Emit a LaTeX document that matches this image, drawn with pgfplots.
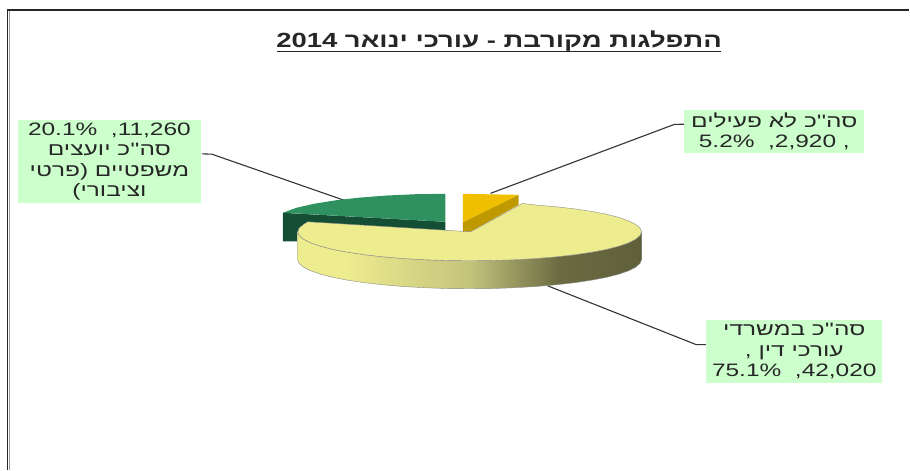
\documentclass[border=0pt]{standalone}
\usepackage{fontspec}
\usepackage{pgfplots}
\pgfplotsset{compat=1.18}
\TeXXeTstate=1
\newfontfamily\hebfont[Script=Hebrew,FakeStretch=1.36]{Liberation Sans}
\newfontfamily\latfont[FakeStretch=1.36]{Liberation Sans}
\newfontfamily\hebbold[Script=Hebrew,FakeStretch=1.34,BoldFont={Liberation Sans Bold}]{Liberation Sans}
\definecolor{labelbg}{HTML}{CCFFCC}
\definecolor{pale}{HTML}{EDEC8E}
\definecolor{paleB}{HTML}{C4C37C}
\definecolor{paleC}{HTML}{6B6B42}
\definecolor{paleD}{HTML}{5F5F3A}
\definecolor{greentop}{HTML}{2F915F}
\definecolor{greenside}{HTML}{134E35}
\definecolor{goldtop}{HTML}{F0C000}
\definecolor{goldside}{HTML}{BF9900}
\pgfdeclarehorizontalshading{paleside}{100bp}{
  color(0bp)=(pale); color(32bp)=(pale); color(50bp)=(paleB);
  color(63bp)=(paleC); color(75bp)=(paleD); color(100bp)=(paleD)}
\begin{document}
\begin{tikzpicture}
\begin{axis}[
  scale only axis, width=910pt, height=470pt,
  xmin=0, xmax=910, ymin=0, ymax=470, y dir=reverse,
  hide axis, clip=false,
]
% page extent
\addplot[draw=none] coordinates {(0,0) (910,470)};
% frame
\addplot[black!85, line width=1.6pt] coordinates {(7.5,470) (7.5,10) (910,10)};
\addplot[black!40, line width=1.4pt] coordinates {(9.6,470) (9.6,11.5)};

% leader lines
\addplot[black!80, line width=1.1pt] coordinates {(685,124.3) (675,124.5) (491,193.5)};
\addplot[black!80, line width=1.1pt] coordinates {(202,154) (212,154.3) (346,201)};
\addplot[black!80, line width=1.1pt] coordinates {(707,345) (697,345) (548,286)};

% green slice 20.1
\addplot[fill=greenside, draw=none] coordinates {
  (283,213) (445.7,222) (445.7,231) (300,231) (300,241.5) (283,241.5)} -- cycle;
\addplot[fill=greentop, draw=none] coordinates {
  (445.7,194) (415.8,194.4) (386.9,195.7) (359.7,197.8) (335.1,200.6)
  (313.9,204) (296.7,208) (283.1,212.9) (445.7,222)} -- cycle;

% gold slice 5.2
\addplot[fill=goldside, draw=none] coordinates {
  (463.3,222.3) (519,195) (519,205) (471,232) (463.3,232)} -- cycle;
\addplot[fill=goldtop, draw=none] coordinates {
  (463.3,194) (519,195) (463.3,222.3)} -- cycle;

% pale slice 75.1, side wall
\addplot[shade, shading=paleside, draw=black!45, line width=0.4pt] coordinates {
  (298,232) (299.5,235.8) (303.9,239.5) (311.1,243.1) (321,246.5) (333.5,249.7)
  (348.4,252.5) (365.3,255) (384,257.1) (404.2,258.8) (425.5,260) (447.6,260.8)
  (470,261) (492.4,260.8) (514.5,260) (535.8,258.8) (556,257.1) (574.7,255)
  (591.6,252.5) (606.5,249.7) (619,246.5) (628.9,243.1) (636.1,239.5) (640.5,235.8)
  (642,232) (642,260) (640.5,263.8) (636.1,267.5) (628.9,271.1) (619,274.5)
  (606.5,277.7) (591.6,280.5) (574.7,283) (556,285.1) (535.8,286.8) (514.5,288)
  (492.4,288.8) (470,289) (447.6,288.8) (425.5,288) (404.2,286.8) (384,285.1)
  (365.3,283) (348.4,280.5) (333.5,277.7) (321,274.5) (311.1,271.1) (303.9,267.5)
  (299.5,263.8) (298,260)} -- cycle;
% pale slice top
\addplot[fill=pale, draw=black!45, line width=0.4pt] coordinates {
  (471,232) (523,203.6) (535.8,205.2) (556,206.9) (574.7,209) (591.6,211.5)
  (606.5,214.3) (619,217.5) (628.9,220.9) (636.1,224.5) (640.5,228.2) (642,232)
  (640.5,235.8) (636.1,239.5) (628.9,243.1) (619,246.5) (606.5,249.7) (591.6,252.5)
  (574.7,255) (556,257.1) (535.8,258.8) (514.5,260) (492.4,260.8) (470,261)
  (447.6,260.8) (425.5,260) (404.2,258.8) (384,257.1) (365.3,255) (348.4,252.5)
  (333.5,249.7) (321,246.5) (311.1,243.1) (303.9,239.5) (299.5,235.8) (298,232)
  (299.5,228.2) (303.9,224.5) (308,222)} -- cycle;

% title
\node[font=\hebbold\bfseries\fontsize{20.5}{22}\selectfont, anchor=base, text=black!85]
  at (axis cs:499.5,48) {\beginR התפלגות מקורבת - עורכי ינואר \beginL 2014\endL\endR};
\addplot[black!85, line width=1.3pt] coordinates {(277,51.5) (722,51.5)};

% data labels
\node[fill=labelbg, inner sep=0pt, minimum width=183pt, minimum height=83pt,
  align=center, font=\hebfont\fontsize{18}{20.5}\selectfont, text=black!85]
  at (axis cs:109.5,161.5) {{\latfont 20.1\%\ \ ,{}11,260}\\
  \beginR סה''כ יועצים\endR\\
  \beginR משפטיים (פרטי\endR\\
  \beginR וציבורי)\endR};
\node[fill=labelbg, inner sep=0pt, minimum width=180pt, minimum height=43pt,
  align=center, font=\hebfont\fontsize{18}{20.5}\selectfont, text=black!85]
  at (axis cs:775,131.7) {\beginR סה''כ לא פעילים\endR\\
  {\latfont 5.2\%\ \ ,{}2,920 ,}};
\node[fill=labelbg, inner sep=0pt, minimum width=176pt, minimum height=63pt,
  align=center, font=\hebfont\fontsize{18}{20.5}\selectfont, text=black!85]
  at (axis cs:795,351.5) {\beginR סה''כ במשרדי\endR\\
  \beginR עורכי דין ,\endR\\
  {\latfont 75.1\%\ \ ,{}42,020}};
\end{axis}
\end{tikzpicture}
\end{document}
